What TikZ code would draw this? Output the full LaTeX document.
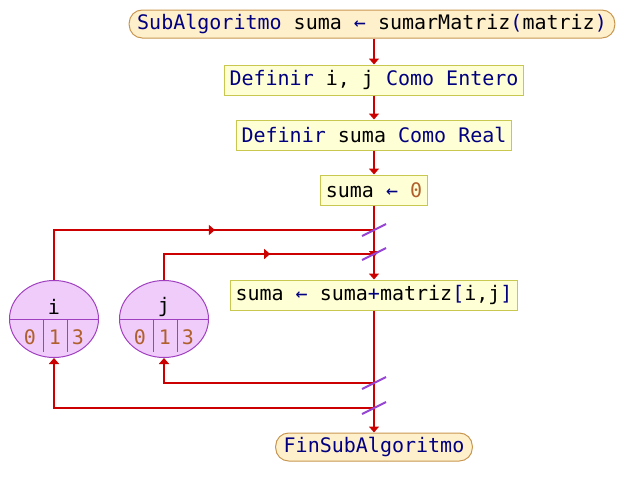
\documentclass[tikz,border=0pt]{standalone}
\usepackage{fontspec}
\setmonofont{DejaVu Sans Mono}
\usetikzlibrary{arrows.meta,shapes.geometric,decorations.markings}
\definecolor{kw}{RGB}{0,0,128}
\definecolor{num}{RGB}{176,96,44}
\definecolor{flowred}{RGB}{204,0,0}
\definecolor{boxfill}{RGB}{255,255,214}
\definecolor{boxline}{RGB}{200,200,80}
\definecolor{termfill}{RGB}{255,240,204}
\definecolor{termline}{RGB}{200,150,80}
\definecolor{loopfill}{RGB}{240,204,250}
\definecolor{loopline}{RGB}{160,64,192}
\definecolor{slashc}{RGB}{150,70,210}
\newcommand{\K}[1]{\textcolor{kw}{#1}}
\newcommand{\N}[1]{\textcolor{num}{#1}}
\begin{document}
\begin{tikzpicture}[x=1pt,y=-1pt,
  every node/.style={font=\ttfamily\fontsize{20}{24}\selectfont},
  procbox/.style={draw=boxline,fill=boxfill,line width=1pt,minimum height=30pt,inner xsep=5pt,inner ysep=0pt},
  termbox/.style={draw=termline,fill=termfill,line width=1pt,rounded corners=13pt,minimum height=28pt,inner xsep=8pt,inner ysep=0pt},
  loopell/.style={draw=loopline,fill=loopfill,line width=1pt,ellipse,minimum width=89pt,minimum height=77pt,inner sep=0pt},
  flow/.style={draw=flowred,line width=2pt,-{Triangle[length=6pt,width=10pt]}},
  flowplain/.style={draw=flowred,line width=2pt},
  midarrow/.style={flowplain,decoration={markings,mark=at position #1 with {\arrow{Triangle[length=6pt,width=10pt]}}},postaction={decorate}},
  slash/.style={draw=slashc,line width=2pt}]
\useasboundingbox (0,0) rectangle (642,498);

% main nodes
\node[termbox] (top) at (372,24) {\K{SubAlgoritmo} suma \K{←} sumarMatriz\K{(}matriz\K{)}};
\node[procbox] (d1) at (374,80) {\K{Definir} i, j \K{Como Entero}};
\node[procbox] (d2) at (374,135) {\K{Definir} suma \K{Como Real}};
\node[procbox] (s0) at (374,190) {suma \K{←} \N{0}};
\node[procbox] (acc) at (374,295) {suma \K{←} suma\K{+}matriz\K{[}i,j\K{]}};
\node[termbox] (fin) at (374,447) {\K{FinSubAlgoritmo}};

% loop ellipses
\node[loopell] (ei) at (54,319) {};
\node[loopell] (ej) at (164,319) {};
\foreach \e/\v in {ei/i,ej/j}{
  \begin{scope}
    \clip (\e.center) ellipse [x radius=44.5pt,y radius=38.5pt];
    \draw[loopline,line width=1pt] ([xshift=-50pt]\e.center) -- ([xshift=50pt]\e.center);
    \draw[loopline,line width=1pt] ([xshift=-11pt]\e.center) -- ([xshift=-11pt,yshift=-33pt]\e.center);
    \draw[loopline,line width=1pt] ([xshift=13pt]\e.center) -- ([xshift=13pt,yshift=-33pt]\e.center);
  \end{scope}
  \node (\e lab) at ([yshift=12pt]\e.center) {\v};
  \node (\e n0) at ([xshift=-24pt,yshift=-18pt]\e.center) {\N{0}};
  \node (\e n1) at ([xshift=1pt,yshift=-18pt]\e.center) {\N{1}};
  \node (\e n3) at ([xshift=24pt,yshift=-18pt]\e.center) {\N{3}};
}

% junction coordinates
\coordinate (c1) at (374,230);
\coordinate (c2) at (374,254);
\coordinate (c3) at (374,383);
\coordinate (c4) at (374,408);

% main flow
\draw[flow] (top.south -| d1) -- (d1);
\draw[flow] (d1) -- (d2);
\draw[flow] (d2) -- (s0);
\draw[flow] (s0) -- ([yshift=-3pt]c2);
\draw[flow] (c2) -- (acc);
\draw[flow] (acc) -- (fin);

% loop connectors
\draw[midarrow=0.57] (ei.north) -- (ei.north |- c1) -- (c1);
\draw[midarrow=0.56] (ej.north) -- (ej.north |- c2) -- (c2);
\draw[flow] (c3) -- (c3 -| ej.south) -- (ej.south);
\draw[flow] (c4) -- (c4 -| ei.south) -- (ei.south);

% slash marks
\foreach \c in {c1,c2,c3,c4}{
  \draw[slash] ([xshift=-12pt,yshift=-6pt]\c) -- ([xshift=12pt,yshift=6pt]\c);
}
\end{tikzpicture}
\end{document}
